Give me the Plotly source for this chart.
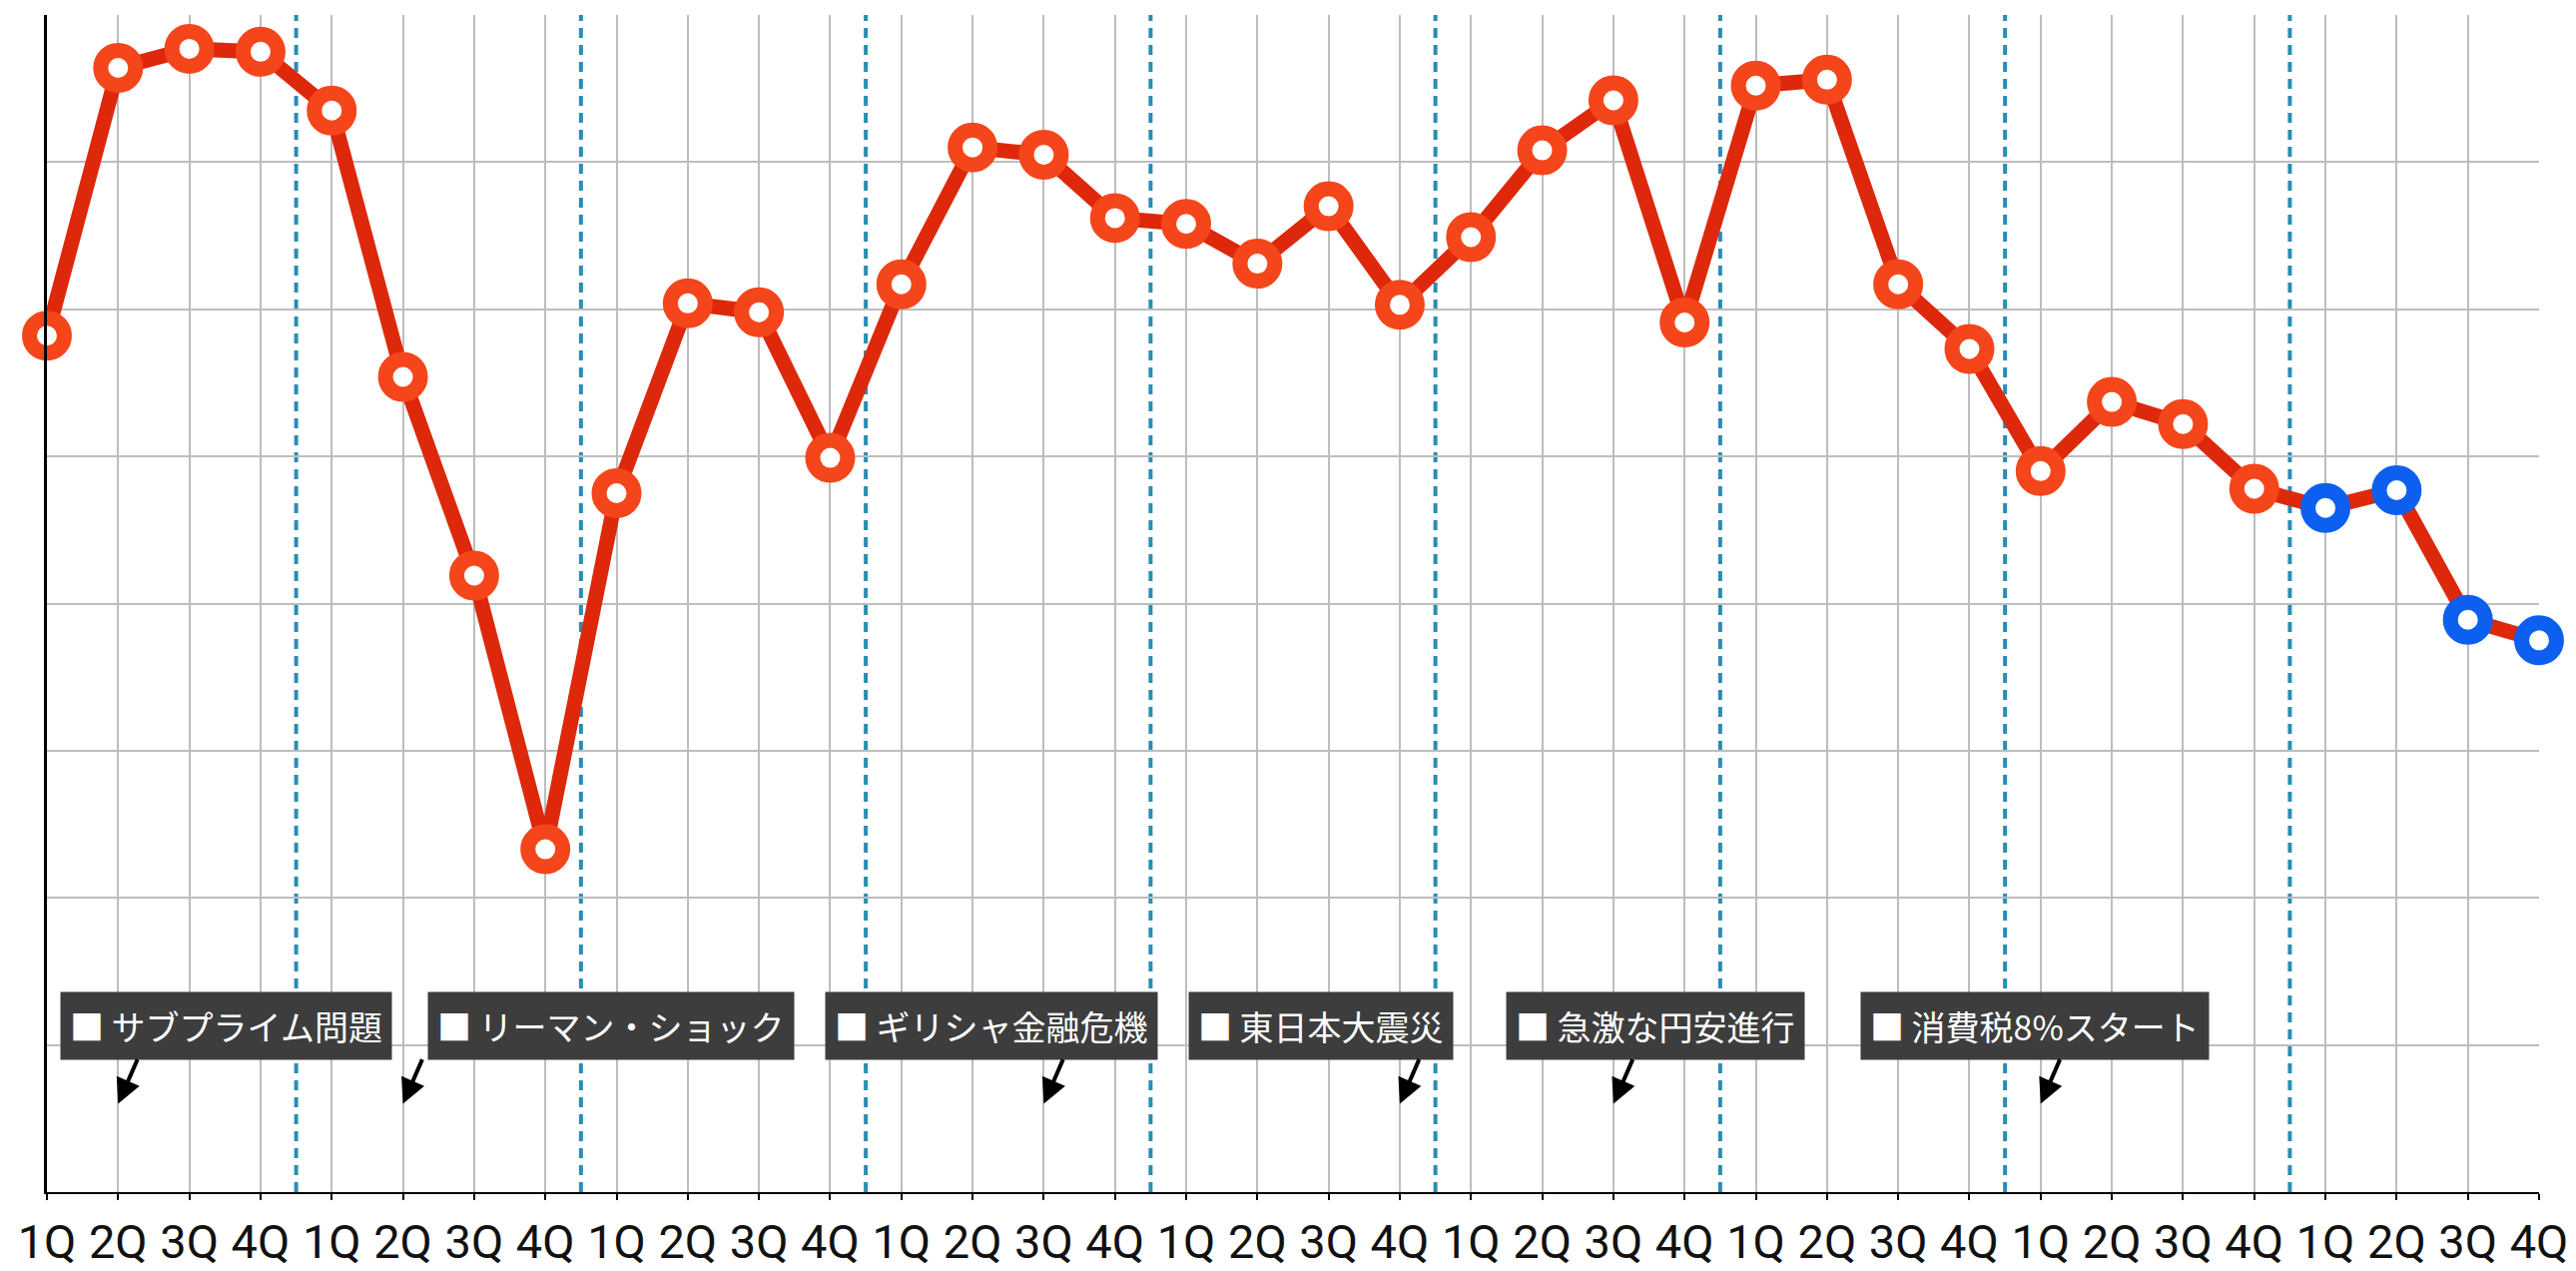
"""Quarterly index line chart with event callouts (2007-2015)."""

import plotly.graph_objects as go

# --- data -----------------------------------------------------------------
years = [2007, 2008, 2009, 2010, 2011, 2012, 2013, 2014, 2015]
quarters = ["1Q", "2Q", "3Q", "4Q"]

index_values = [
    58.2, 76.4, 77.7, 77.5,   # 2007
    73.5, 55.4, 41.9, 23.3,   # 2008
    47.5, 60.4, 59.8, 49.9,   # 2009
    61.7, 71.0, 70.5, 66.2,   # 2010
    65.8, 63.1, 67.0, 60.3,   # 2011
    64.9, 70.8, 74.2, 59.1,   # 2012
    75.2, 75.6, 61.7, 57.3,   # 2013
    49.0, 53.7, 52.2, 47.8,   # 2014
    46.5, 47.7, 38.9, 37.5,   # 2015 (forecast)
]
forecast_year = 2015

event_labels = [
    "サブプライム問題",
    "リーマン・ショック",
    "ギリシャ金融危機",
    "東日本大震災",
    "急激な円安進行",
    "消費税8%スタート",
]
event_quarters = [(2007, "2Q"), (2008, "2Q"), (2010, "3Q"),
                  (2011, "4Q"), (2012, "3Q"), (2014, "1Q")]
# left edge of each callout box, in quarter units
event_box_left = [0.18, 5.34, 10.93, 16.03, 20.48, 25.47]

# --- styling --------------------------------------------------------------
LINE_RED = "#de280b"
MARKER_RED = "#f4461a"
MARKER_BLUE = "#0d60ef"
GRID = "#bdbdbd"
YEAR_SEP = "#2a8db5"
BOX = "#3d3d3d"

n = len(index_values)
x = list(range(n))
tick_text = [q for _ in years for q in quarters]
marker_colors = [
    MARKER_BLUE if years[i // 4] == forecast_year else MARKER_RED for i in x
]

fig = go.Figure()
fig.add_trace(go.Scatter(
    x=x,
    y=index_values,
    mode="lines+markers",
    line=dict(color=LINE_RED, width=15),
    marker=dict(
        symbol="circle",
        size=35,
        color="white",
        line=dict(color=marker_colors, width=15),
    ),
    cliponaxis=False,
    hoverinfo="skip",
))

# dotted separators between years
for k in range(1, len(years)):
    fig.add_shape(
        type="line",
        xref="x", yref="paper",
        x0=4 * k - 0.5, x1=4 * k - 0.5, y0=0, y1=1,
        line=dict(color=YEAR_SEP, width=4, dash="10px,7px"),
        layer="between",
    )

# event callouts: dark box + short arrow to the quarter
for label, (yr, q), left in zip(event_labels, event_quarters, event_box_left):
    xi = years.index(yr) * 4 + quarters.index(q)
    fig.add_annotation(
        x=left, y=11.3, xref="x", yref="y",
        xanchor="left", yanchor="middle",
        text="■ " + label,
        showarrow=False,
        bgcolor=BOX,
        borderpad=9,
        font=dict(family="Noto Sans CJK JP", size=34, color="white"),
    )
    fig.add_annotation(
        x=xi, y=6.0, xref="x", yref="y",
        text="",
        showarrow=True,
        ax=20, ay=-46,
        arrowhead=2, arrowsize=1.25, arrowwidth=4,
        arrowcolor="black",
        standoff=0,
    )

fig.update_layout(
    width=2580,
    height=1273,
    margin=dict(l=47, r=37, t=15, b=79, autoexpand=False),
    plot_bgcolor="white",
    paper_bgcolor="white",
    showlegend=False,
    font=dict(family="Roboto, Noto Sans", color="black"),
)
fig.update_xaxes(
    range=[0, n - 1],
    tickvals=x,
    ticktext=tick_text,
    tickfont=dict(size=47, color="#111111"),
    ticklabelstandoff=2,
    ticklabeloverflow="allow",
    automargin=False,
    showgrid=True,
    gridcolor=GRID,
    gridwidth=2,
    showline=True,
    linecolor="black",
    linewidth=2,
    ticks="outside",
    ticklen=6,
    tickwidth=2,
    tickcolor="black",
    zeroline=False,
)
fig.update_yaxes(
    range=[0, 80],
    dtick=10,
    showticklabels=False,
    automargin=False,
    showgrid=True,
    gridcolor=GRID,
    gridwidth=2,
    showline=True,
    linecolor="black",
    linewidth=3,
    zeroline=False,
)

# drop the default body margin so the figure fills the window exactly
fig.write_html(
    "out.html",
    config={"displayModeBar": False},
    post_script="document.body.style.margin = '0';",
)
